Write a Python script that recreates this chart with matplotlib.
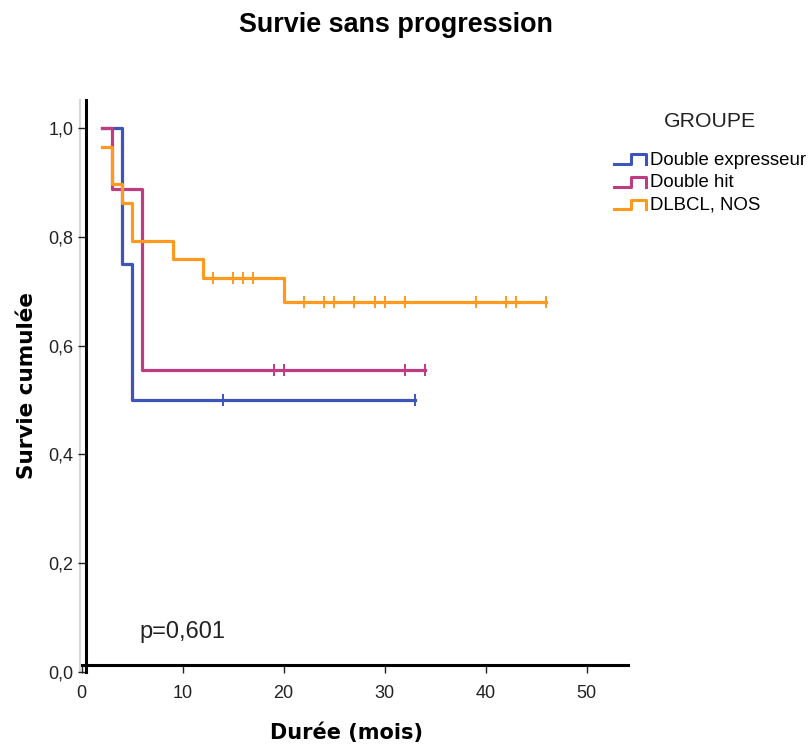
import matplotlib
matplotlib.use('Agg')
import matplotlib.pyplot as plt
import numpy as np
from matplotlib.legend_handler import HandlerBase
from matplotlib.lines import Line2D

plt.rcParams['font.family'] = ['Liberation Sans', 'DejaVu Sans']

# données
groupes = ['Double expresseur', 'Double hit', 'DLBCL, NOS']
couleurs = ['#3D55B8', '#BE3C82', '#FF9A1F']

t_de = [2, 4, 5, 33]
s_de = [1.0, 0.75, 0.5, 0.5]
c_de = [14, 33]

t_dh = [2, 3, 6, 34]
s_dh = [1.0, 0.889, 0.556, 0.556]
c_dh = [19, 20, 32, 34]

t_nos = [2, 3, 4, 5, 9, 12, 20, 46]
s_nos = [0.966, 0.897, 0.862, 0.793, 0.759, 0.724, 0.681, 0.681]
c_nos = [13, 15, 16, 17, 22, 24, 25, 27, 29, 30, 32, 39, 42, 43, 46]

x_ticks = [0, 10, 20, 30, 40, 50]
y_ticks = [0.0, 0.2, 0.4, 0.6, 0.8, 1.0]
p_text = 'p=0,601'


class HandlerMarche(HandlerBase):
    # petite icône en escalier comme SPSS
    def create_artists(self, legend, orig_handle, xdescent, ydescent,
                       width, height, fontsize, trans):
        xs = [0, 0.5 * width, 0.5 * width, 0.95 * width, 0.95 * width]
        ys = [0.05 * height, 0.05 * height, 0.8 * height, 0.8 * height, 0.05 * height]
        l = Line2D(np.array(xs) - xdescent, np.array(ys) - ydescent,
                   color=orig_handle.get_color(), lw=2.2, transform=trans)
        return [l]


fig = plt.figure(figsize=(8.11, 7.51), dpi=100)
ax = fig.add_axes([0.1007, 0.1056, 0.6737, 0.7612])

series = [(t_de, s_de, c_de), (t_dh, s_dh, c_dh), (t_nos, s_nos, c_nos)]
handles = []
for (t, s, c), col, nom in zip(series, couleurs, groupes):
    h, = ax.step(t, s, where='post', color=col, lw=2.3, label=nom)
    handles.append(h)
    idx = np.searchsorted(t, c, side='right') - 1
    ax.plot(c, np.array(s)[idx], ls='none', marker='|', ms=8, mew=1.4, color=col)

ax.set_xlim(0, 54.1)
ax.set_ylim(0, 1.052)
ax.spines['top'].set_visible(False)
ax.spines['right'].set_visible(False)
ax.spines['left'].set_position(('data', 0.4))
ax.spines['bottom'].set_position(('data', 0.012))
ax.spines['left'].set_linewidth(2.2)
ax.spines['bottom'].set_linewidth(2.2)
ax.axvline(-0.15, color='#d8d8d8', lw=1.5, zorder=0, clip_on=False)

ax.set_xticks(x_ticks)
ax.set_yticks(y_ticks)
ax.set_yticklabels([f'{v:.1f}'.replace('.', ',') for v in y_ticks])
ax.tick_params(labelsize=13, length=6, width=1, colors='#222222')
ax.tick_params(axis='x', pad=8)
ax.tick_params(axis='y', pad=3)

ax.set_xlabel('Durée (mois)', fontsize=15, fontweight='bold', family='DejaVu Sans')
ax.set_ylabel('Survie cumulée', fontsize=15.5, fontweight='bold', family='DejaVu Sans')
ax.xaxis.label.set_va('center')
ax.yaxis.label.set_va('center')
ax.xaxis.set_label_coords(0.484, -0.107)
ax.yaxis.set_label_coords(-0.1, 0.5)
ax.text(5.7, 0.073, p_text, fontsize=17, color='#222222', va='center')

fig.text(0.488, 0.967, 'Survie sans progression', fontsize=19.4, fontweight='bold',
         ha='center', va='center')

fig.text(0.875, 0.838, 'GROUPE', fontsize=15.3, ha='center', va='center', color='#222222')
leg = fig.legend(handles=handles, labels=groupes, loc='upper left',
                 bbox_to_anchor=(0.757, 0.798), frameon=False, fontsize=13.4,
                 handler_map={Line2D: HandlerMarche()}, borderpad=0, borderaxespad=0,
                 handlelength=1.83, handletextpad=0.1, labelspacing=0.3)

plt.savefig('out.png', dpi=100)
